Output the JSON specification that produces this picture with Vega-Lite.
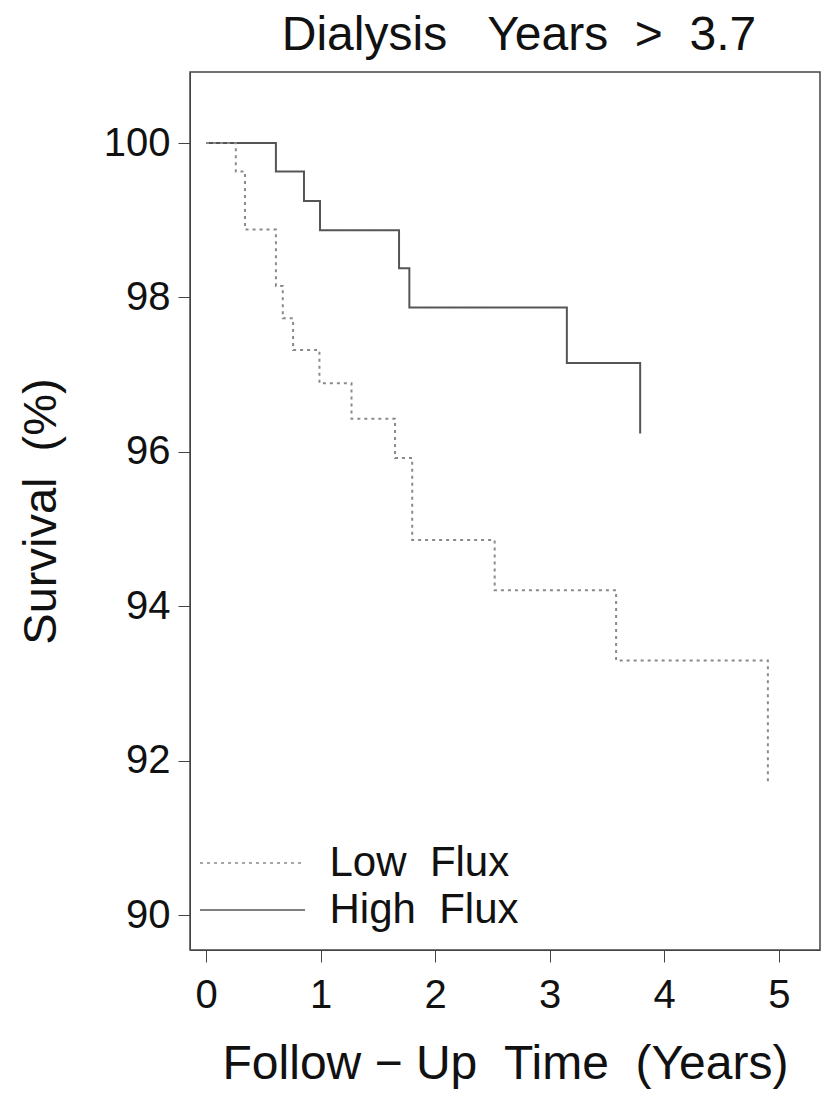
{
  "$schema": "https://vega.github.io/schema/vega-lite/v6.json",
  "autosize": "none",
  "width": 630,
  "height": 878,
  "padding": {"left": 190, "top": 72, "right": 1, "bottom": 145},
  "background": "white",
  "config": {
    "font": "Liberation Sans",
    "view": {"stroke": "#444", "strokeWidth": 1.5},
    "axis": {"grid": false, "domainColor": "#444", "tickColor": "#444", "labelColor": "#111", "titleColor": "#111", "labelFont": "Liberation Sans", "titleFont": "Liberation Sans", "titleFontWeight": "normal"}
  },
  "title": {"text": "Dialysis\u00a0\u00a0\u00a0Years\u00a0\u00a0>\u00a0\u00a03.7", "fontSize": 48, "fontWeight": "normal", "font": "Liberation Sans", "color": "#111", "anchor": "middle", "dx": 14, "offset": 12},
  "data": {
    "values": [
      {"group": "High Flux", "time": 0, "survival": 100},
      {"group": "High Flux", "time": 0.61, "survival": 99.63},
      {"group": "High Flux", "time": 0.855, "survival": 99.25},
      {"group": "High Flux", "time": 0.995, "survival": 98.87},
      {"group": "High Flux", "time": 1.685, "survival": 98.38},
      {"group": "High Flux", "time": 1.775, "survival": 97.87},
      {"group": "High Flux", "time": 3.15, "survival": 97.15},
      {"group": "High Flux", "time": 3.79, "survival": 96.24},
      {"group": "Low Flux", "time": 0, "survival": 100},
      {"group": "Low Flux", "time": 0.26, "survival": 99.63},
      {"group": "Low Flux", "time": 0.34, "survival": 98.88},
      {"group": "Low Flux", "time": 0.61, "survival": 98.15},
      {"group": "Low Flux", "time": 0.67, "survival": 97.73},
      {"group": "Low Flux", "time": 0.76, "survival": 97.32},
      {"group": "Low Flux", "time": 0.99, "survival": 96.89},
      {"group": "Low Flux", "time": 1.27, "survival": 96.43},
      {"group": "Low Flux", "time": 1.65, "survival": 95.92},
      {"group": "Low Flux", "time": 1.8, "survival": 94.86},
      {"group": "Low Flux", "time": 2.52, "survival": 94.21},
      {"group": "Low Flux", "time": 3.58, "survival": 93.3},
      {"group": "Low Flux", "time": 4.905, "survival": 91.71}
    ]
  },
  "mark": {"type": "line", "interpolate": "step-after", "strokeWidth": 2},
  "encoding": {
    "x": {
      "field": "time", "type": "quantitative",
      "scale": {"domain": [-0.14, 5.36], "nice": false, "zero": false},
      "axis": {"values": [0, 1, 2, 3, 4, 5], "tickSize": 12, "labelPadding": 13, "labelFontSize": 40, "titleFontSize": 48, "titlePadding": 25, "labelFlush": false},
      "title": "Follow − Up\u00a0\u00a0Time\u00a0\u00a0(Years)"
    },
    "y": {
      "field": "survival", "type": "quantitative",
      "scale": {"domain": [89.55, 100.92], "nice": false, "zero": false},
      "axis": {"values": [90, 92, 94, 96, 98, 100], "tickSize": 12, "labelPadding": 8, "labelFontSize": 40, "titleFontSize": 47, "titlePadding": 38, "labelFlush": false},
      "title": "Survival\u00a0\u00a0(%)"
    },
    "color": {
      "field": "group", "type": "nominal",
      "scale": {"domain": ["Low Flux", "High Flux"], "range": ["#8a8a8a", "#555555"]},
      "legend": {
        "title": null, "orient": "none", "legendX": 10, "legendY": 770,
        "symbolType": "M-5,0H5", "symbolSize": 441, "symbolStrokeWidth": 1.5, "symbolOffset": 31.5,
        "labelFontSize": 42, "labelFont": "Liberation Sans", "labelColor": "#111", "labelOffset": 56, "labelLimit": 500,
        "labelExpr": "replace(datum.label, ' ', '\u00a0\u00a0')",
        "rowPadding": 5, "padding": 0
      }
    },
    "strokeDash": {
      "field": "group", "type": "nominal",
      "scale": {"domain": ["Low Flux", "High Flux"], "range": [[3, 4], [1, 0]]},
      "legend": {
        "title": null, "orient": "none", "legendX": 10, "legendY": 770,
        "symbolType": "M-5,0H5", "symbolSize": 441, "symbolStrokeWidth": 1.5, "symbolOffset": 31.5,
        "labelFontSize": 42, "labelFont": "Liberation Sans", "labelColor": "#111", "labelOffset": 56, "labelLimit": 500,
        "labelExpr": "replace(datum.label, ' ', '\u00a0\u00a0')",
        "rowPadding": 5, "padding": 0
      }
    }
  }
}
